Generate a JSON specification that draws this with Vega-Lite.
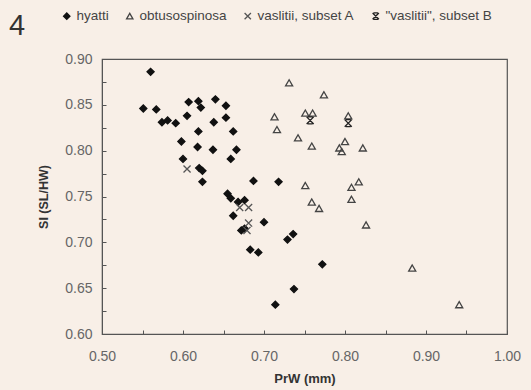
{
  "$schema": "https://vega.github.io/schema/vega-lite/v6.json",
  "width": 405,
  "height": 275,
  "autosize": {"type": "none"},
  "padding": {"left": 102, "top": 59, "right": 24, "bottom": 56},
  "background": "#f8efe7",
  "title": {"text": "4", "anchor": "start", "frame": "group", "dx": -93, "dy": 32, "fontSize": 29, "fontWeight": "normal", "font": "Liberation Sans", "color": "#333", "baseline": "top", "orient": "top", "offset": 0},
  "config": {
    "font": "Liberation Sans",
    "view": {"stroke": "#555", "strokeWidth": 1.2}
  },
  "data": {"values": [
    {"x": 0.560, "y": 0.886, "s": "hyatti"},
    {"x": 0.551, "y": 0.846, "s": "hyatti"},
    {"x": 0.567, "y": 0.845, "s": "hyatti"},
    {"x": 0.574, "y": 0.831, "s": "hyatti"},
    {"x": 0.581, "y": 0.833, "s": "hyatti"},
    {"x": 0.591, "y": 0.830, "s": "hyatti"},
    {"x": 0.607, "y": 0.853, "s": "hyatti"},
    {"x": 0.605, "y": 0.838, "s": "hyatti"},
    {"x": 0.598, "y": 0.810, "s": "hyatti"},
    {"x": 0.600, "y": 0.791, "s": "hyatti"},
    {"x": 0.619, "y": 0.854, "s": "hyatti"},
    {"x": 0.622, "y": 0.847, "s": "hyatti"},
    {"x": 0.619, "y": 0.821, "s": "hyatti"},
    {"x": 0.618, "y": 0.804, "s": "hyatti"},
    {"x": 0.620, "y": 0.781, "s": "hyatti"},
    {"x": 0.624, "y": 0.778, "s": "hyatti"},
    {"x": 0.624, "y": 0.766, "s": "hyatti"},
    {"x": 0.640, "y": 0.856, "s": "hyatti"},
    {"x": 0.653, "y": 0.849, "s": "hyatti"},
    {"x": 0.638, "y": 0.831, "s": "hyatti"},
    {"x": 0.653, "y": 0.836, "s": "hyatti"},
    {"x": 0.662, "y": 0.821, "s": "hyatti"},
    {"x": 0.637, "y": 0.801, "s": "hyatti"},
    {"x": 0.666, "y": 0.801, "s": "hyatti"},
    {"x": 0.659, "y": 0.791, "s": "hyatti"},
    {"x": 0.687, "y": 0.767, "s": "hyatti"},
    {"x": 0.718, "y": 0.766, "s": "hyatti"},
    {"x": 0.655, "y": 0.753, "s": "hyatti"},
    {"x": 0.659, "y": 0.748, "s": "hyatti"},
    {"x": 0.668, "y": 0.744, "s": "hyatti"},
    {"x": 0.676, "y": 0.746, "s": "hyatti"},
    {"x": 0.662, "y": 0.729, "s": "hyatti"},
    {"x": 0.700, "y": 0.722, "s": "hyatti"},
    {"x": 0.672, "y": 0.713, "s": "hyatti"},
    {"x": 0.676, "y": 0.715, "s": "hyatti"},
    {"x": 0.683, "y": 0.692, "s": "hyatti"},
    {"x": 0.693, "y": 0.689, "s": "hyatti"},
    {"x": 0.729, "y": 0.703, "s": "hyatti"},
    {"x": 0.736, "y": 0.709, "s": "hyatti"},
    {"x": 0.772, "y": 0.676, "s": "hyatti"},
    {"x": 0.737, "y": 0.649, "s": "hyatti"},
    {"x": 0.714, "y": 0.632, "s": "hyatti"},
    {"x": 0.731, "y": 0.874, "s": "obtusospinosa"},
    {"x": 0.774, "y": 0.861, "s": "obtusospinosa"},
    {"x": 0.713, "y": 0.837, "s": "obtusospinosa"},
    {"x": 0.751, "y": 0.841, "s": "obtusospinosa"},
    {"x": 0.760, "y": 0.841, "s": "obtusospinosa"},
    {"x": 0.804, "y": 0.838, "s": "obtusospinosa"},
    {"x": 0.716, "y": 0.823, "s": "obtusospinosa"},
    {"x": 0.742, "y": 0.814, "s": "obtusospinosa"},
    {"x": 0.759, "y": 0.805, "s": "obtusospinosa"},
    {"x": 0.800, "y": 0.810, "s": "obtusospinosa"},
    {"x": 0.793, "y": 0.803, "s": "obtusospinosa"},
    {"x": 0.796, "y": 0.799, "s": "obtusospinosa"},
    {"x": 0.822, "y": 0.803, "s": "obtusospinosa"},
    {"x": 0.817, "y": 0.766, "s": "obtusospinosa"},
    {"x": 0.808, "y": 0.760, "s": "obtusospinosa"},
    {"x": 0.751, "y": 0.762, "s": "obtusospinosa"},
    {"x": 0.759, "y": 0.744, "s": "obtusospinosa"},
    {"x": 0.768, "y": 0.737, "s": "obtusospinosa"},
    {"x": 0.808, "y": 0.747, "s": "obtusospinosa"},
    {"x": 0.826, "y": 0.719, "s": "obtusospinosa"},
    {"x": 0.883, "y": 0.672, "s": "obtusospinosa"},
    {"x": 0.941, "y": 0.632, "s": "obtusospinosa"},
    {"x": 0.605, "y": 0.780, "s": "vaslitii, subset A"},
    {"x": 0.670, "y": 0.738, "s": "vaslitii, subset A"},
    {"x": 0.681, "y": 0.738, "s": "vaslitii, subset A"},
    {"x": 0.681, "y": 0.721, "s": "vaslitii, subset A"},
    {"x": 0.679, "y": 0.713, "s": "vaslitii, subset A"},
    {"x": 0.757, "y": 0.833, "s": "\"vaslitii\", subset B"},
    {"x": 0.804, "y": 0.830, "s": "\"vaslitii\", subset B"}
  ]},
  "mark": {"type": "point", "strokeWidth": 1.3, "opacity": 1, "size": 50},
  "encoding": {
    "x": {
      "field": "x", "type": "quantitative",
      "scale": {"domain": [0.5, 1.0], "nice": false, "zero": false},
      "axis": {
        "title": "PrW (mm)", "titleFontSize": 13, "titleFontWeight": "bold", "titleColor": "#333", "titlePadding": 9,
        "values": [0.5, 0.55, 0.6, 0.65, 0.7, 0.75, 0.8, 0.85, 0.9, 0.95, 1.0],
        "labelExpr": "round(datum.value*100) % 10 == 0 ? format(datum.value, '.2f') : ''",
        "grid": false, "domainColor": "#555", "tickColor": "#555", "tickSize": -4,
        "labelPadding": 19, "labelFontSize": 14, "labelColor": "#666", "labelFlush": false
      }
    },
    "y": {
      "field": "y", "type": "quantitative",
      "scale": {"domain": [0.6, 0.9], "nice": false, "zero": false},
      "axis": {
        "title": "SI (SL/HW)", "titleFontSize": 12.5, "titleFontWeight": "bold", "titleColor": "#333", "titlePadding": 14,
        "values": [0.6, 0.625, 0.65, 0.675, 0.7, 0.725, 0.75, 0.775, 0.8, 0.825, 0.85, 0.875, 0.9],
        "labelExpr": "round(datum.value*1000) % 50 == 0 ? format(datum.value, '.2f') : ''",
        "grid": false, "domainColor": "#555", "tickColor": "#555", "tickSize": -4,
        "labelPadding": 14, "labelFontSize": 14, "labelColor": "#666", "labelFlush": false
      }
    },
    "shape": {
      "field": "s", "type": "nominal",
      "scale": {
        "domain": ["hyatti", "obtusospinosa", "vaslitii, subset A", "\"vaslitii\", subset B"],
        "range": ["diamond", "triangle-up", "M-1,-1L1,1M1,-1L-1,1", "M-1,-1L1,1M1,-1L-1,1M-0.7,-1L0.7,-1M-0.7,1L0.7,1"]
      },
      "legend": {"title": null, "orient": "none", "direction": "horizontal", "legendX": -42, "legendY": -50, "labelFontSize": 13.5, "labelColor": "#444", "symbolSize": 40, "columnPadding": 14, "labelOffset": 3, "symbolStrokeWidth": 1.3}
    },
    "fill": {
      "field": "s", "type": "nominal",
      "scale": {
        "domain": ["hyatti", "obtusospinosa", "vaslitii, subset A", "\"vaslitii\", subset B"],
        "range": ["#111", "transparent", "transparent", "transparent"]
      }
    },
    "stroke": {
      "field": "s", "type": "nominal",
      "scale": {
        "domain": ["hyatti", "obtusospinosa", "vaslitii, subset A", "\"vaslitii\", subset B"],
        "range": ["#111", "#444", "#555", "#222"]
      }
    }
  }
}
